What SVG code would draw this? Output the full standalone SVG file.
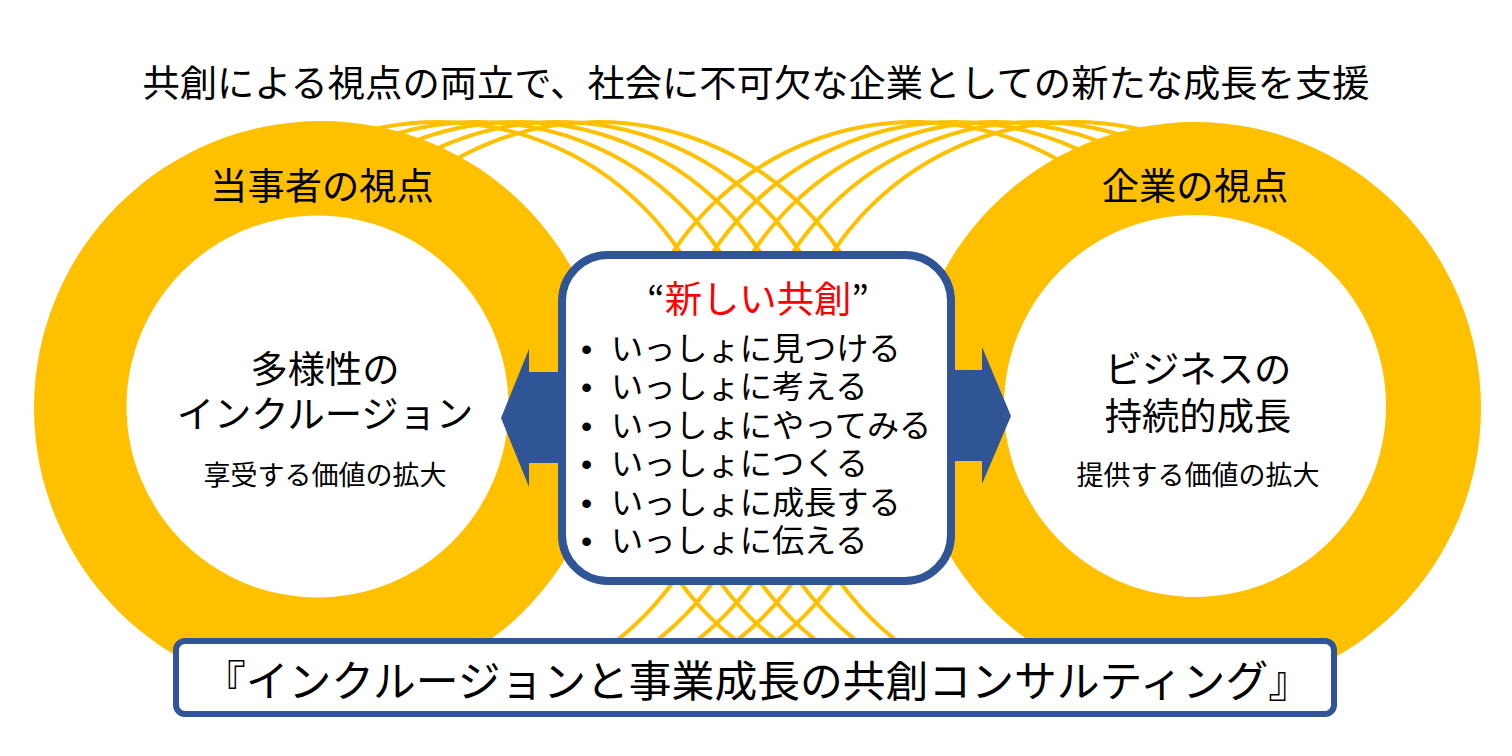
<svg xmlns="http://www.w3.org/2000/svg" width="1512" height="756" viewBox="0 0 1512 756">
<style>
text{font-family:"Noto Sans CJK JP","Noto Sans",sans-serif;fill:#000;text-anchor:middle;font-weight:400}
.h{font-size:37.3px}
.s{font-size:27px}
.l{font-size:32.2px;text-anchor:start}
.b{font-size:32px;text-anchor:start;font-family:"Liberation Sans",sans-serif}
.arc{fill:none;stroke:#FFC000;stroke-width:4}
.ring{fill:#FFC000}
.hole{fill:#fff}
.blue{fill:#2F5597}
</style>
<rect width="1512" height="756" fill="#fff"/>
<g id="connectors">
<circle class="arc" cx="438" cy="412" r="290"/>
<circle class="arc" cx="478" cy="412" r="290"/>
<circle class="arc" cx="518" cy="412" r="290"/>
<circle class="arc" cx="558" cy="412" r="290"/>
<circle class="arc" cx="598" cy="412" r="290"/>
<circle class="arc" cx="915" cy="412" r="290"/>
<circle class="arc" cx="955" cy="412" r="290"/>
<circle class="arc" cx="995" cy="412" r="290"/>
<circle class="arc" cx="1035" cy="412" r="290"/>
<circle class="arc" cx="1075" cy="412" r="290"/>
</g>
<g id="left-circle">
<circle class="ring" cx="321" cy="408" r="287"/>
<circle class="hole" cx="317.500" cy="406.500" r="191"/>
<text class="h" x="322" y="200">当事者の視点</text>
<text class="h" x="325" y="383">多様性の</text>
<text class="h" x="325" y="428">インクルージョン</text>
<text class="s" x="325" y="485">享受する価値の拡大</text>
</g>
<g id="right-circle">
<circle class="ring" cx="1195" cy="408" r="286"/>
<circle class="hole" cx="1195" cy="406" r="191"/>
<text class="h" x="1195" y="200">企業の視点</text>
<text class="h" x="1198" y="383">ビジネスの</text>
<text class="h" x="1198" y="430">持続的成長</text>
<text class="s" x="1198" y="485">提供する価値の拡大</text>
</g>
<g id="arrows">
<polygon class="blue" points="501,418 529,349 529,372 570,372 570,463 529,463 529,487"/>
<polygon class="blue" points="1011,416 982,347 982,370 940,370 940,461 982,461 982,484"/>
</g>
<g id="center-box">
<rect x="562" y="255" width="389" height="326" rx="46" fill="#fff" stroke="#2F5597" stroke-width="8"/>
<text class="h" x="758" y="313"><tspan>“</tspan><tspan fill="#FF0000">新しい共創</tspan><tspan>”</tspan></text>
<text class="b" x="581" y="360">•</text><text class="l" x="611" y="360">いっしょに見つける</text>
<text class="b" x="581" y="398">•</text><text class="l" x="611" y="398">いっしょに考える</text>
<text class="b" x="581" y="437">•</text><text class="l" x="611" y="437">いっしょにやってみる</text>
<text class="b" x="581" y="475">•</text><text class="l" x="611" y="475">いっしょにつくる</text>
<text class="b" x="581" y="514">•</text><text class="l" x="611" y="514">いっしょに成長する</text>
<text class="b" x="581" y="552">•</text><text class="l" x="611" y="552">いっしょに伝える</text>
</g>
<g id="bottom-box">
<rect x="176" y="641" width="1158" height="73" rx="9" fill="#fff" stroke="#2F5597" stroke-width="6"/>
<text x="757" y="697" font-size="42.800">『インクルージョンと事業成長の共創コンサルティング』</text>
</g>
<g id="title">
<text class="h" x="756" y="97">共創による視点の両立で、社会に不可欠な企業としての新たな成長を支援</text>
</g>
</svg>
